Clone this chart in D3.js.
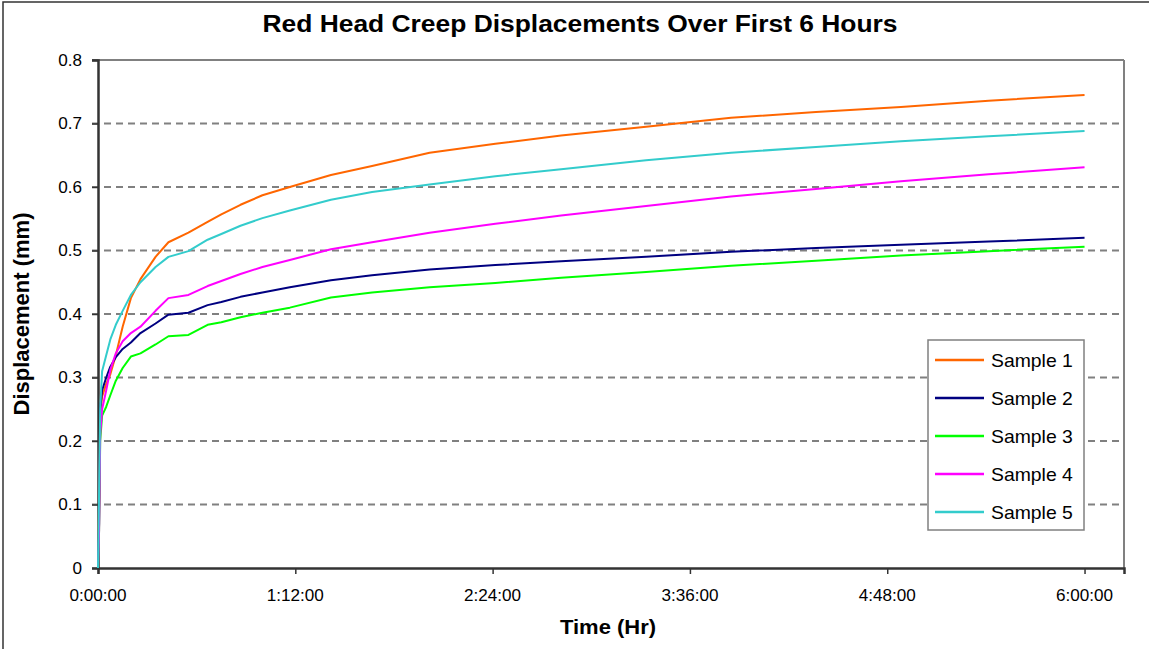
<!DOCTYPE html>
<html>
<head>
<meta charset="utf-8">
<script src="https://cdn.jsdelivr.net/npm/d3@7"></script>
<style>
  html, body { margin: 0; padding: 0; background: #fff; }
  svg { display: block; }
  text { font-family: "Liberation Sans", Arial, sans-serif; fill: #000; }
</style>
</head>
<body>
<svg id="chart" width="1149" height="649"></svg>
<script>
// ---- Data (time in minutes, displacement in mm) ----
const times = [0, 0.4, 0.8, 1.5, 3, 4.5, 6.5, 9, 12, 15.5, 21, 25.7, 33, 40, 45, 52, 60, 70, 85, 100, 121, 145, 169, 200, 231, 262, 293, 325, 360];
const sample1 = [0, 0.10, 0.24, 0.27, 0.29, 0.305, 0.335, 0.38, 0.425, 0.455, 0.49, 0.513, 0.528, 0.545, 0.557, 0.572, 0.587, 0.600, 0.619, 0.633, 0.654, 0.668, 0.681, 0.695, 0.709, 0.718, 0.726, 0.736, 0.745];
const sample2 = [0, 0.07, 0.25, 0.28, 0.30, 0.317, 0.332, 0.345, 0.355, 0.37, 0.385, 0.399, 0.402, 0.414, 0.419, 0.427, 0.434, 0.442, 0.453, 0.461, 0.47, 0.477, 0.483, 0.49, 0.498, 0.504, 0.509, 0.514, 0.52];
const sample3 = [0, 0.06, 0.20, 0.24, 0.254, 0.272, 0.295, 0.315, 0.333, 0.338, 0.352, 0.365, 0.367, 0.383, 0.387, 0.395, 0.402, 0.41, 0.426, 0.434, 0.442, 0.449, 0.457, 0.466, 0.476, 0.484, 0.492, 0.499, 0.506];
const sample4 = [0, 0.06, 0.21, 0.25, 0.28, 0.312, 0.338, 0.357, 0.37, 0.38, 0.405, 0.425, 0.43, 0.444, 0.452, 0.463, 0.474, 0.485, 0.502, 0.513, 0.528, 0.542, 0.555, 0.57, 0.585, 0.597, 0.609, 0.62, 0.631];
const sample5 = [0, 0.12, 0.25, 0.31, 0.335, 0.36, 0.383, 0.405, 0.43, 0.45, 0.474, 0.49, 0.499, 0.517, 0.526, 0.539, 0.551, 0.563, 0.58, 0.592, 0.604, 0.617, 0.628, 0.642, 0.654, 0.663, 0.672, 0.68, 0.688];
const seriesNames = ["Sample 1", "Sample 2", "Sample 3", "Sample 4", "Sample 5"];
const seriesColors = ["#FF6600", "#000080", "#00FF00", "#FF00FF", "#33CCCC"];
const xTickValues = [0, 72, 144, 216, 288, 360];
const xTickLabels = ["0:00:00", "1:12:00", "2:24:00", "3:36:00", "4:48:00", "6:00:00"];
const yTickValues = [0, 0.1, 0.2, 0.3, 0.4, 0.5, 0.6, 0.7, 0.8];
const yTickLabels = ["0", "0.1", "0.2", "0.3", "0.4", "0.5", "0.6", "0.7", "0.8"];

const allSeries = [sample1, sample2, sample3, sample4, sample5];

// ---- Layout ----
const svg = d3.select("#chart");
const L = 98, R = 1124, T = 60, B = 568;
const x = d3.scaleLinear().domain([0, 374.4]).range([L, R]);
const y = d3.scaleLinear().domain([0, 0.8]).range([B, T]);
const SX = 1.1; // horizontal stretch of the reference text

function label(x0, y0, str, size, opts = {}) {
  const t = svg.append("text")
    .attr("transform", `translate(${x0},${y0}) ${opts.rotate ? "rotate(" + opts.rotate + ")" : ""} scale(${opts.sx || SX},1)`)
    .attr("text-anchor", opts.anchor || "middle")
    .attr("font-size", size)
    .attr("font-weight", opts.bold ? "bold" : "normal")
    .text(str);
  if (opts.dy) t.attr("dy", opts.dy);
  return t;
}

// outer chart border
svg.append("rect").attr("x", 3).attr("y", 2).attr("width", 1160).attr("height", 660)
  .attr("fill", "#fff").attr("stroke", "#333").attr("stroke-width", 1.5);

// gridlines (dashed) with outward tick
const gridVals = yTickValues.filter(v => v > 0 && v < 0.8);
svg.append("g").selectAll("line").data(gridVals).join("line")
  .attr("x1", L - 6).attr("x2", R)
  .attr("y1", d => y(d)).attr("y2", d => y(d))
  .attr("stroke", "#808080").attr("stroke-width", 2).attr("stroke-dasharray", "7,5");

// plot frame top/right (gray)
svg.append("line").attr("x1", L - 6).attr("x2", R).attr("y1", T).attr("y2", T).attr("stroke", "#808080").attr("stroke-width", 2);
svg.append("line").attr("x1", R).attr("x2", R).attr("y1", T).attr("y2", B).attr("stroke", "#808080").attr("stroke-width", 2);

// axes via d3
const yAxis = d3.axisLeft(y).tickValues(yTickValues).tickSize(6).tickFormat("");
const gy = svg.append("g").attr("transform", `translate(${L},0)`).call(yAxis);
gy.select(".domain").attr("stroke", "#333").attr("stroke-width", 2.5);
gy.selectAll(".tick line").attr("stroke", "#333").attr("stroke-width", 1.5);

const xAxis = d3.axisBottom(x).tickValues(xTickValues).tickSize(6).tickFormat("");
const gx = svg.append("g").attr("transform", `translate(0,${B})`).call(xAxis);
gx.select(".domain").attr("stroke", "#333").attr("stroke-width", 2.5);
gx.selectAll(".tick line").attr("stroke", "#333").attr("stroke-width", 1.5);

// tick labels
yTickValues.forEach((v, i) => label(82, y(v), yTickLabels[i], 16, { anchor: "end", dy: "0.35em", sx: 1.07 }));
xTickValues.forEach((v, i) => label(x(v), 601, xTickLabels[i], 16, { sx: 1.07 }));

// series lines
const line = d3.line().x((d, i) => x(times[i])).y(d => y(d)).curve(d3.curveLinear);
allSeries.forEach((s, k) => {
  svg.append("path").datum(s).attr("d", line)
    .attr("fill", "none").attr("stroke", seriesColors[k]).attr("stroke-width", 2)
    .attr("stroke-linejoin", "round");
});

// titles
label(580, 32, "Red Head Creep Displacements Over First 6 Hours", 24, { bold: true });
label(608, 634, "Time (Hr)", 20, { bold: true });
label(29, 314, "Displacement (mm)", 22, { bold: true, rotate: -90, sx: 1.0 });

// legend
const lg = svg.append("g");
lg.append("rect").attr("x", 928).attr("y", 340).attr("width", 156).attr("height", 190)
  .attr("fill", "#fff").attr("stroke", "#808080").attr("stroke-width", 1.5);
const rowY = d3.scalePoint().domain(seriesNames).range([360, 512]);
seriesNames.forEach((n, k) => {
  lg.append("line").attr("x1", 935).attr("x2", 984).attr("y1", rowY(n)).attr("y2", rowY(n))
    .attr("stroke", seriesColors[k]).attr("stroke-width", 2.5);
  label(991, rowY(n), n, 19, { anchor: "start", dy: "0.36em", sx: 1.02 });
});
</script>
</body>
</html>
